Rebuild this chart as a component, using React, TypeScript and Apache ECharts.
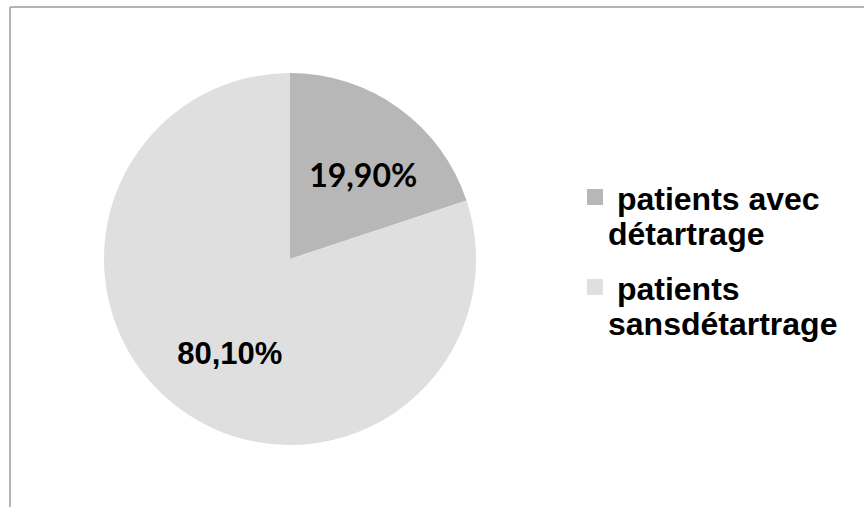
import React, { useEffect, useRef } from "react";
import * as echarts from "echarts";

const categories = ["patients avec détartrage", "patients sansdétartrage"];
const legendLabels = [" patients avec\ndétartrage", " patients\nsansdétartrage"];
const values = [19.9, 80.1];
const valueLabels = ["19,90%", "80,10%"];
const colors = ["#b7b7b7", "#dfdfdf"];

export default function App() {
  const ref = useRef<HTMLDivElement>(null);
  useEffect(() => {
    if (!ref.current) return;
    const chart = echarts.init(ref.current, null, { renderer: "svg" });
    const labelFonts = [
      { fontFamily: "Lato", fontSize: 32, offset: [17, -7] },
      { fontFamily: "Liberation Sans", fontSize: 31, offset: [-4, 17] },
    ];
    chart.setOption({
      animation: false,
      backgroundColor: "#ffffff",
      graphic: [
        {
          type: "line",
          shape: { x1: 10, y1: 7, x2: 864, y2: 7 },
          style: { stroke: "#b4b4b4", lineWidth: 2 },
          silent: true,
        },
        {
          type: "line",
          shape: { x1: 10, y1: 7, x2: 10, y2: 507 },
          style: { stroke: "#b4b4b4", lineWidth: 2 },
          silent: true,
        },
      ],
      legend: {
        orient: "vertical",
        left: 587,
        top: 181,
        padding: 0,
        itemGap: 20,
        itemWidth: 16,
        itemHeight: 70,
        icon: "path://M0,0L0.01,0M0,8H16V24H0ZM0,70L0.01,70",
        itemStyle: { borderWidth: 0 },
        selectedMode: false,
        data: categories,
        formatter: (name: string) => legendLabels[categories.indexOf(name)],
        textStyle: {
          fontFamily: "Liberation Sans",
          fontWeight: "bold",
          fontSize: 32,
          lineHeight: 35,
          color: "#000000",
        },
      },
      series: [
        {
          type: "pie",
          center: [290, 259],
          radius: 186,
          startAngle: 90,
          clockwise: true,
          silent: true,
          emphasis: { disabled: true },
          itemStyle: { borderWidth: 0 },
          labelLine: { show: false },
          data: categories.map((name, i) => ({
            name,
            value: values[i],
            itemStyle: { color: colors[i] },
            label: {
              show: true,
              position: "inside",
              formatter: valueLabels[i],
              color: "#000000",
              fontWeight: "bold",
              fontFamily: labelFonts[i].fontFamily,
              fontSize: labelFonts[i].fontSize,
              offset: labelFonts[i].offset,
            },
          })),
        },
      ],
    });
    return () => chart.dispose();
  }, []);
  return (
    <div
      ref={ref}
      style={{ position: "fixed", left: 0, top: 0, width: 864, height: 507 }}
    />
  );
}
